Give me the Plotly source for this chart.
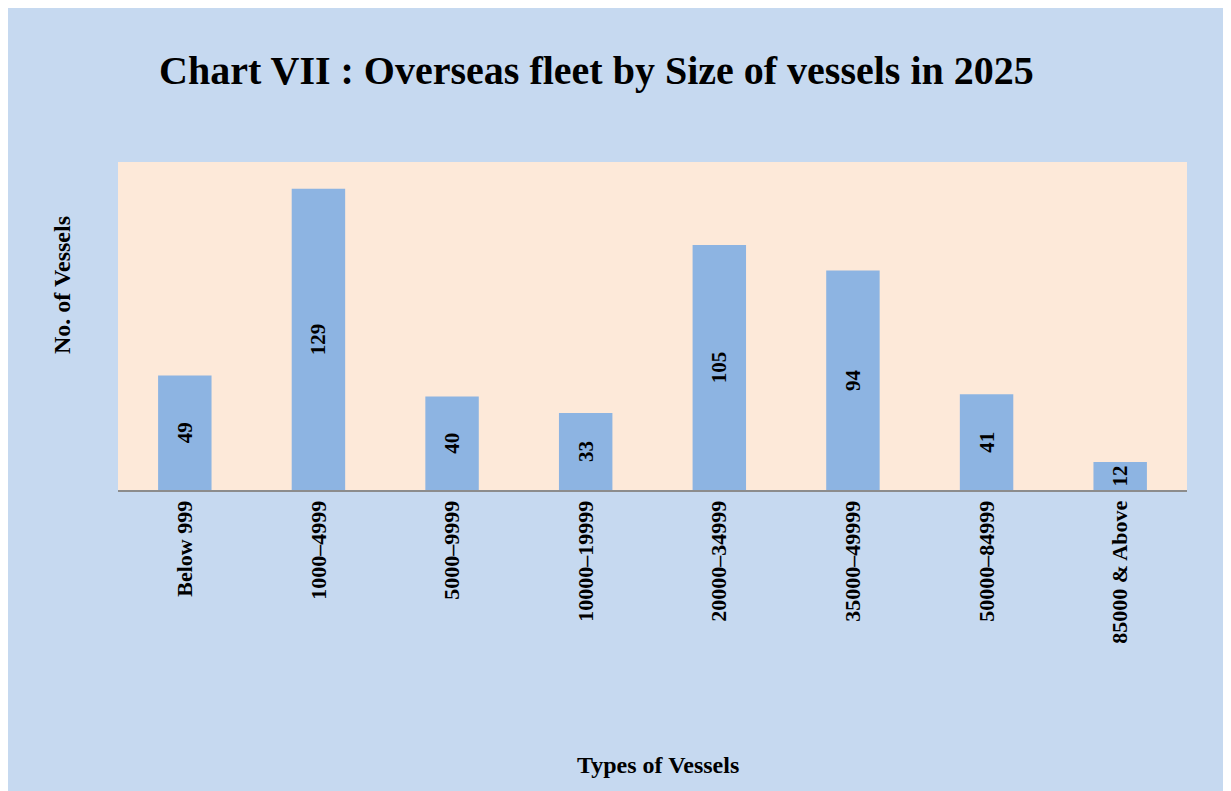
import plotly.graph_objects as go

categories = ["Below 999", "1000\u20134999", "5000\u20139999", "10000\u201319999",
              "20000\u201334999", "35000\u201349999", "50000\u201384999", "85000 & Above"]
values = [49, 129, 40, 33, 105, 94, 41, 12]

title_text = "Chart VII : Overseas fleet by Size of vessels in 2025"
x_title = "Types of Vessels"
y_title = "No. of Vessels"

SERIF = "Liberation Serif, Times New Roman, serif"
BLUE_BG = "#C6D9F0"
PEACH = "#FDE9D9"
BAR = "#8DB4E2"

fig = go.Figure()
fig.add_trace(go.Bar(
    x=categories, y=values,
    marker=dict(color=BAR, line=dict(width=0)),
    width=0.4,
    text=[str(v) for v in values],
    texttemplate="<b>%{text}</b>",
    textposition="inside",
    insidetextanchor="middle",
    textangle=-90,
    textfont=dict(family=SERIF, size=21, color="#000000"),
    cliponaxis=False,
    hoverinfo="skip",
))

fig.update_layout(
    width=1231, height=791,
    margin=dict(l=110, r=52, t=154, b=309),
    paper_bgcolor=BLUE_BG,
    plot_bgcolor=PEACH,
    showlegend=False,
    uniformtext=dict(mode="show", minsize=21),
    title=dict(text="<b>" + title_text + "</b>", x=0.478, xanchor="center",
               y=0.921, yanchor="middle",
               font=dict(family=SERIF, size=40, color="#000000")),
    xaxis=dict(
        tickangle=-90,
        tickfont=dict(family=SERIF, size=22, color="#000000"),
        showline=True, linecolor="#8C8C8C", linewidth=2,
        ticks="", showgrid=False,
        tickprefix="<b>", ticksuffix="</b>",
    ),
    yaxis=dict(
        range=[0, 140.5],
        showticklabels=False, showgrid=False, zeroline=False,
        showline=False, ticks="",
    ),
    annotations=[
        dict(text="<b>" + y_title + "</b>", xref="paper", yref="paper",
             x=-0.0524, y=0.625, xanchor="center", yanchor="middle",
             textangle=-90, showarrow=False,
             font=dict(family=SERIF, size=24, color="#000000")),
        dict(text="<b>" + x_title + "</b>", xref="paper", yref="paper",
             x=0.505, y=-0.838, xanchor="center", yanchor="middle",
             showarrow=False,
             font=dict(family=SERIF, size=24, color="#000000")),
    ],
    shapes=[
        dict(type="line", xref="paper", yref="paper",
             x0=1.0356, x1=1.0356, y0=-1.0, y1=1.48,
             line=dict(color="#A0A0A0", width=2), layer="above"),
    ],
)

fig.write_html("out.html")
